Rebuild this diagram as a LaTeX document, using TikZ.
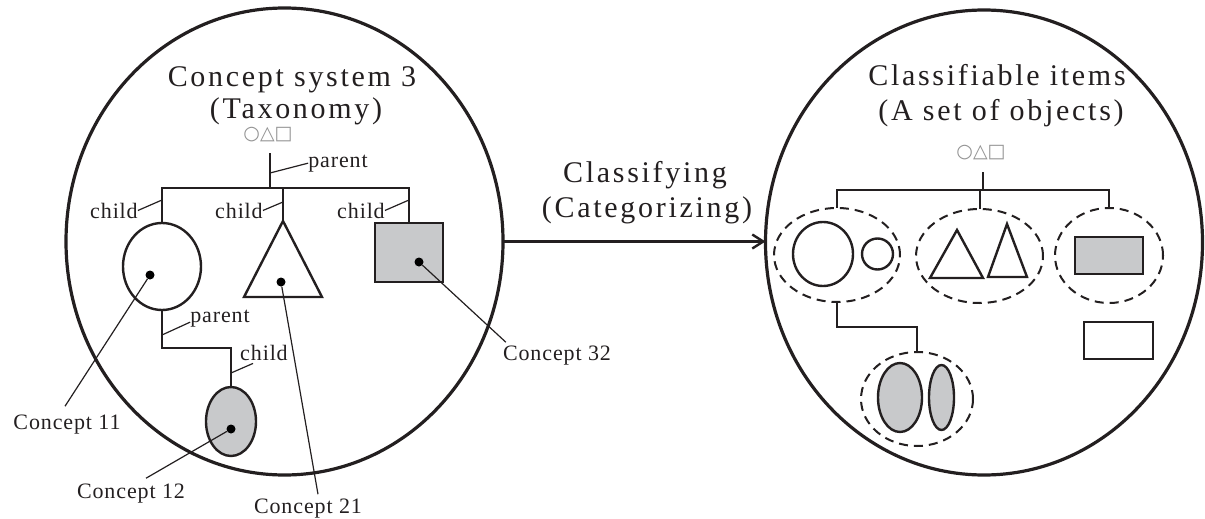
\documentclass[tikz,border=0pt]{standalone}
\usepackage{fontspec}
\setmainfont{Liberation Serif}
\newfontfamily\titlefont{Liberation Serif}[LetterSpace=9]
\newfontfamily\tagfont{Liberation Serif}[LetterSpace=4]
\newfontfamily\symbfont{DejaVu Sans}
\usetikzlibrary{arrows.meta, positioning, shapes.geometric, calc}
\definecolor{concept}{RGB}{200,201,203}
\definecolor{ink}{RGB}{35,31,32}
\tikzset{
    universe/.style={ellipse, draw=ink, line width=3.2pt, inner sep=0pt, outer sep=0pt},
    item/.style={draw=ink, line width=2.4pt, inner sep=0pt, outer sep=0pt},
    group/.style={ellipse, draw=ink, line width=2pt, dash pattern=on 9pt off 6pt, inner sep=0pt, outer sep=0pt},
    tree/.style={draw=ink, line width=2pt},
    leader/.style={draw=ink, line width=1.2pt},
    flow/.style={draw=ink, line width=2.4pt, -{Straight Barb[length=11pt, width=14pt]}},
    dotnode/.style={circle, fill=black, minimum size=9pt, inner sep=0pt},
    title/.style={font=\titlefont\fontsize{30}{34}\selectfont, text=ink, anchor=base, inner sep=0pt},
    tag/.style={font=\tagfont\fontsize{22}{26}\selectfont, text=ink, anchor=base, inner sep=0pt},
    symb/.style={font=\symbfont\fontsize{19}{23}\selectfont, text=gray!85, inner sep=0pt},
}
\begin{document}
\begin{tikzpicture}[x=1pt, y=-1pt]
    \tikzset{node distance=8pt}
    \useasboundingbox (0,0) rectangle (1205,519);

    \node[universe, minimum width=437pt, minimum height=467pt] (sysL) at (284.5,241.5) {};
    \node[title] (tsys) at (292,86) {Concept system 3};
    \node[title] (ttax) at (296,118) {(Taxonomy)};
    \node[symb] (rootL) at (268,135) {○△□};
    \coordinate (topL) at (270,153);
    \coordinate (jL) at (270,188);

    \node[item, ellipse, minimum width=78pt, minimum height=87pt] (c11) at (162,266.5) {};
    \coordinate (c21) at (283,221);
    \draw[item] (c21) -- (322,297) -- (244,297) -- cycle;
    \node[item, fill=concept, minimum width=68pt, minimum height=59pt] (c32) at (409,252.5) {};
    \node[item, ellipse, fill=concept, minimum width=50pt, minimum height=69pt] (c12) at (231,421.5) {};

    \draw[tree] (topL) -- (jL) -| (c11.north);
    \draw[tree] (jL) -| (c21);
    \draw[tree] (jL) -| (c32.north);
    \coordinate (kL) at (162,348);
    \draw[tree] (c11.south) -- (kL) -| (c12.north);

    \node[tag] (pL) at (338,167) {parent};
    \node[tag] (tc11) at (114,218) {child};
    \node[tag] (tc21) at (239,218) {child};
    \node[tag] (tc32) at (361,218) {child};
    \node[tag] (pL2) at (220,322) {parent};
    \node[tag] (tc12) at (264,360) {child};
    \draw[leader] (pL.west) -- ($(jL)+(0,-15)$);
    \draw[leader] (tc11.east) -- ($(c11.north)+(0,-23)$);
    \draw[leader] (tc21.east) -- ($(c21)+(0,-19)$);
    \draw[leader] (tc32.east) -- ($(c32.north)+(0,-23)$);
    \draw[leader] ($(pL2.west)+(0,4)$) -- ($(c11.south)+(0,25)$);
    \draw[leader] ($(tc12.south west)+(13,3)$) -- ($(c12.north)+(0,-14)$);

    \node[dotnode] (d11) at (150,275) {};
    \node[dotnode] (d21) at (281,282) {};
    \node[dotnode] (d32) at (419,262) {};
    \node[dotnode] (d12) at (231,429) {};
    \node[tag] (l11) at (67,429) {Concept 11};
    \node[tag] (l12) at (131,498) {Concept 12};
    \node[tag] (l21) at (308,513) {Concept 21};
    \node[tag] (l32) at (557,360) {Concept 32};
    \draw[leader] (d11) -- ($(l11.north)+(-2,-8)$);
    \draw[leader] (d12) -- ($(l12.north)+(15,-5)$);
    \draw[leader] (d21) -- ($(l21.north)+(10,-4)$);
    \draw[leader] (d32) -- ($(l32.north west)+(3,-3)$);

    \node[universe, minimum width=437pt, minimum height=465pt] (itemsR) at (984,242.5) {};
    \node[title] (tcla) at (997,85) {Classifiable items};
    \node[title] (tset) at (1001,121) {(A set of objects)};
    \node[symb] (rootR) at (981,153) {○△□};
    \coordinate (topR) at (983,172);
    \coordinate (jR) at (983,190);

    \node[group, minimum width=126pt, minimum height=94pt] (g1) at (837,255) {};
    \node[group, minimum width=127pt, minimum height=94pt] (g2) at (979.5,256) {};
    \node[group, minimum width=108pt, minimum height=95pt] (g3) at (1109,255.5) {};
    \node[group, minimum width=112pt, minimum height=94pt] (g4) at (917,399) {};
    \draw[tree] (topR) -- (jR) -| (g1.north);
    \draw[tree] (jR) -| (g2.north);
    \draw[tree] (jR) -| (g3.north);
    \coordinate (kR) at (837,327);
    \draw[tree] (g1.south) -- (kR) -| (g4.north);

    \node[item, ellipse, minimum width=60pt, minimum height=64pt] (o1) at (823,254) {};
    \node[item, circle, minimum size=31pt, right=9pt of o1] (o2) {};
    \draw[item] (957,230) -- (983,278) -- (930,278) -- cycle;
    \draw[item] (1007,224) -- (1027,277) -- (988,277) -- cycle;
    \node[item, fill=concept, minimum width=68pt, minimum height=37pt] (r1) at (1109,255.5) {};
    \node[item, minimum width=69pt, minimum height=37pt] (r2) at (1118.5,340.5) {};
    \node[item, ellipse, fill=concept, minimum width=44pt, minimum height=69pt] (e1) at (900,397.5) {};
    \node[item, ellipse, fill=concept, minimum width=25pt, minimum height=65pt, right=7pt of e1] (e2) {};

    \draw[flow] (sysL.east) -- (sysL.east -| itemsR.west);
    \node[title] (tcls) at (645,182) {Classifying};
    \node[title] (tcat) at (647,217) {(Categorizing)};
\end{tikzpicture}
\end{document}
